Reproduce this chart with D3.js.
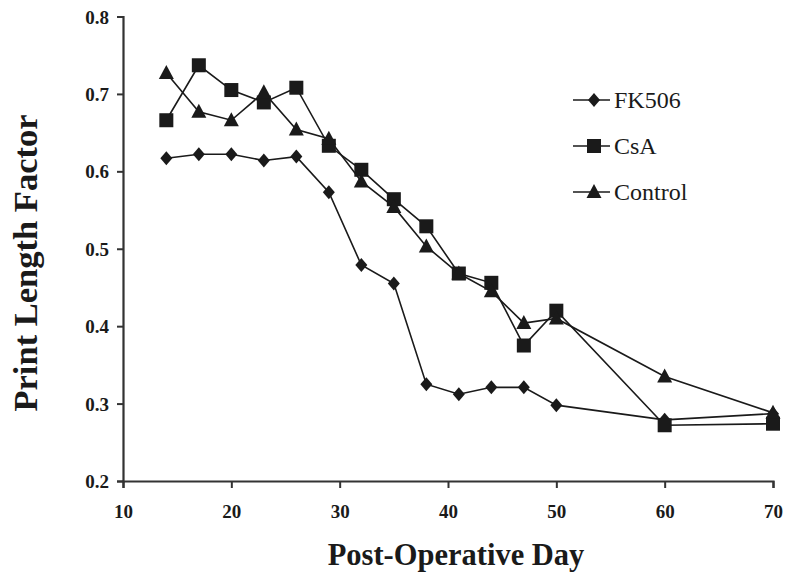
<!DOCTYPE html>
<html><head><meta charset="utf-8">
<script src="https://cdn.jsdelivr.net/npm/d3@7/dist/d3.min.js"></script>
<style>body{margin:0;background:#fff}svg{display:block}</style>
</head><body>
<svg id="c" width="788" height="580"></svg>
<script>
const days = [14,17,20,23,26,29,32,35,38,41,44,47,50,60,70];
const fk506 = [0.617,0.622,0.622,0.614,0.619,0.573,0.479,0.455,0.325,0.312,0.321,0.321,0.298,0.279,0.287];
const csa = [0.666,0.737,0.705,0.689,0.708,0.633,0.602,0.564,0.529,0.468,0.456,0.375,0.420,0.272,0.274];
const control = [0.727,0.677,0.666,0.702,0.654,0.642,0.587,0.554,0.503,0.468,0.445,0.404,0.410,0.335,0.288];
const seriesNames = ["FK506","CsA","Control"];
const xTicks = [10,20,30,40,50,60,70];
const yTicks = [0.2,0.3,0.4,0.5,0.6,0.7,0.8];

const FONT = "'Liberation Serif','Times New Roman',Times,serif";
const svg = d3.select("#c");
const x = d3.scaleLinear().domain([10,70]).range([123,773]);
const y = d3.scaleLinear().domain([0.2,0.8]).range([481,16.5]);
const ink = "#1a1a1a";

// axes
const xa = svg.append("g").attr("transform","translate(0,481)")
  .call(d3.axisBottom(x).tickValues(xTicks).tickSize(7).tickFormat(d3.format("d")));
const ya = svg.append("g").attr("transform","translate(123,0)")
  .call(d3.axisLeft(y).tickValues(yTicks).tickSize(6).tickFormat(d3.format(".1f")));
[xa,ya].forEach(g=>{
  g.attr("font-family",null);
  g.select(".domain").attr("stroke","#333").attr("stroke-width",2.2);
  g.selectAll(".tick line").attr("stroke","#333").attr("stroke-width",2);
  g.selectAll(".tick text").attr("fill",ink)
    .style("font-family",FONT)
    .style("font-weight","bold").style("font-size","19px");
});
xa.selectAll(".tick text").attr("dy",0).attr("y",37);
ya.selectAll(".tick text").attr("x",-14).attr("dy","0.35em");

// titles
svg.append("text").attr("x",456).attr("y",565).attr("text-anchor","middle")
  .style("font-family",FONT)
  .style("font-weight","bold").style("font-size","30.5px").attr("fill",ink)
  .text("Post-Operative Day");
svg.append("text").attr("transform","translate(37,263) rotate(-90)").attr("text-anchor","middle")
  .style("font-family",FONT)
  .style("font-weight","bold").style("font-size","34.5px").attr("fill",ink)
  .text("Print Length Factor");

// symbols
const diamond = (g,cx,cy)=>g.append("path").attr("d",`M${cx},${cy-7}L${cx+6},${cy}L${cx},${cy+7}L${cx-6},${cy}Z`).attr("fill",ink);
const square = (g,cx,cy)=>g.append("rect").attr("x",cx-7).attr("y",cy-7).attr("width",14).attr("height",14).attr("fill",ink);
const tri = (g,cx,cy)=>g.append("path").attr("d",`M${cx},${cy-8}L${cx+7.5},${cy+6}L${cx-7.5},${cy+6}Z`).attr("fill",ink);

const series = [
  {name:seriesNames[0], vals:fk506, sym:diamond},
  {name:seriesNames[1], vals:csa, sym:square},
  {name:seriesNames[2], vals:control, sym:tri}
];
const line = d3.line().x((d,i)=>x(days[i])).y(d=>y(d));
const gLines = svg.append("g");
const gMarks = svg.append("g");
series.forEach(s=>{
  gLines.append("path").datum(s.vals).attr("d",line).attr("fill","none")
    .attr("stroke",ink).attr("stroke-width",1.6);
});
series.forEach(s=>{
  s.vals.forEach((v,i)=>s.sym(gMarks,x(days[i]),y(v)));
});

// legend
const leg = svg.append("g");
const legY = [100,146,192];
series.forEach((s,i)=>{
  leg.append("line").attr("x1",573).attr("x2",610).attr("y1",legY[i]).attr("y2",legY[i])
    .attr("stroke",ink).attr("stroke-width",1.6);
  s.sym(leg,594,legY[i]);
  leg.append("text").attr("x",614).attr("y",legY[i]+7.5)
    .style("font-family",FONT).style("font-weight","normal")
    .style("font-size","24px").attr("fill",ink).text(s.name);
});
</script>
</body></html>
